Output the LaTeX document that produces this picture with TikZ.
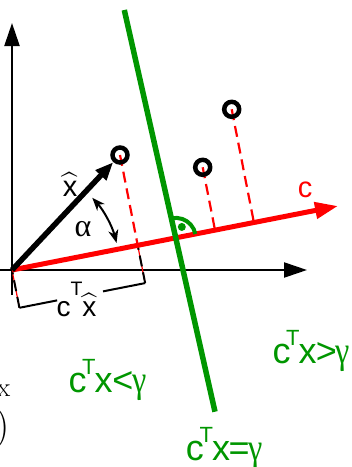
\documentclass[tikz,border=0pt]{standalone}
\usepackage{fontspec}
\newfontfamily\lsans{Liberation Sans}
\newfontfamily\lserif{Liberation Serif}
\usetikzlibrary{arrows.meta,calc}
\definecolor{fgreen}{RGB}{0,150,0}
\definecolor{fred}{RGB}{255,0,0}
% c^T x <rel> gamma, with kerns before and after the relation
\newcommand{\greenlab}[3]{c\kern-4.4pt\raisebox{18pt}{\fontsize{22}{22}\selectfont T}\kern-0.9pt x\kern#2pt#1\kern#3pt\scalebox{0.85}[1]{\lserif\fontsize{38}{38}\selectfont γ}}
% x with a wide hat (scaled from the 10pt math accent)
\newcommand{\xhat}[1]{\rlap{\scalebox{#1}{\fontsize{10}{10}\selectfont$\widehat{\hbox{\phantom{x}}}$}}x}
\begin{document}
\begin{tikzpicture}[x=1pt,y=-1pt,
  axis/.style={line width=2.2pt,-{Triangle[length=23pt,width=15pt]}},
  proj/.style={fred,line width=2.2pt,dash pattern=on 11pt off 6pt},
  pt/.style={circle,draw=black,line width=4.5pt,minimum size=15pt,inner sep=0pt},
  lab/.style={inner sep=0pt,outer sep=0pt,anchor=base west},
  blackfont/.style={font=\lsans\fontsize{28}{28}\selectfont},
  greenfont/.style={text=fgreen,font=\lsans\fontsize{36}{36}\selectfont},
  leg/.style={line width=2pt,dash pattern=on 11pt off 6pt},
  alphaarrows/.style={{Stealth[length=13pt,width=10pt,inset=4pt]}-{Stealth[length=13pt,width=10pt,inset=4pt]}}]
\useasboundingbox (0,0) rectangle (352,467);
\clip (0,0) rectangle (352,467);
% key points
\coordinate (O) at (12,270);
\coordinate (Ybot) at (12,295);
\coordinate (Ytop) at (12,23);
\coordinate (Xl) at (0,270);
\coordinate (Xr) at (307,270);
\coordinate (Ctip) at (338,206);
\coordinate (P1) at (120,155);
\coordinate (P2) at (202.7,167.3);
\coordinate (P3) at (231.7,109.3);
\coordinate (Gt) at (124.3,10);
\coordinate (Gb) at (215,411.7);
\coordinate (F1) at ($(O)!(P1)!(Ctip)$);
\coordinate (F2) at ($(O)!(P2)!(Ctip)$);
\coordinate (F3) at ($(O)!(P3)!(Ctip)$);
\coordinate (L) at ($(O)!38.5pt!-90:(Ctip)$);
\coordinate (R) at ($(F1)!38.5pt!90:(O)$);
\coordinate (X) at (intersection of O--Ctip and Gt--Gb);
% axes
\draw[axis] (Ybot) -- (Ytop);
\draw[axis] (Xl) -- (Xr);
% projections
\draw[proj] (P1) -- (F1);
\draw[proj] (P2) -- (F2);
\draw[proj] (P3) -- (F3);
% bracket
\draw[fred,line width=1.2pt] (O) -- (L) (F1) -- (R);
\draw[leg] (L) -- (O);
\draw[leg] (R) -- (F1);
\draw[line width=2pt] (L) -- ($(L)!0.30!(R)$) ($(L)!0.665!(R)$) -- (R);
% c vector
\draw[fred,line width=5pt,-{Triangle[length=23pt,width=16pt]}] (O) -- (Ctip);
% hyperplane
\draw[fgreen,line width=5.5pt] (Gt) -- (Gb);
% x hat vector
\draw[line width=5.5pt,shorten >=10pt,-{Triangle[length=18pt,width=14pt]}] (O) -- (P1);
% points
\node[pt] (c1) at (P1) {};
\node[pt] (c2) at (P2) {};
\node[pt] (c3) at (P3) {};
% right angle mark
\draw[fgreen,line width=4pt] ($(X)+(-11.1:20)$) arc[start angle=-11.1,end angle=-102.7,radius=20];
\fill[fgreen] ($(X)+(-61:12.5)$) circle[radius=4];
% angle alpha
\draw[line width=2pt,alphaarrows] ($(O)+(-42:108)$) arc[start angle=-42,end angle=-14.5,radius=108];
% labels
\node[lab,text=fred,font=\lsans\fontsize{29}{29}\selectfont] (clab) at (297.9,197.3) {c};
\node[lab,font=\lsans\fontsize{29}{29}\selectfont] (xlab) at (62.8,196) {\xhat{2.9}};
\node[lab,font=\lserif\fontsize{32}{32}\selectfont] (alab) at (74.7,236) {α};
\node[lab,blackfont] (blab) at (56.5,316.7) {c\kern0pt\raisebox{21.7pt}{\fontsize{19.5}{19.5}\selectfont T}\kern0pt\xhat{2.8}};
\node[lab,greenfont] (lt) at (68.6,392) {\greenlab{<}{-0.4}{-0.5}};
\node[lab,greenfont] (gt) at (272.6,363) {\greenlab{>}{-0.8}{-1.8}};
\node[lab,greenfont] (eq) at (185.9,460) {\greenlab{=}{-1.5}{-0.8}};
% clipped fragments at the left edge
\node[inner sep=0pt,anchor=base east,font=\fontsize{27}{27}\selectfont] (fragx) at (10.3,396.7) {x};
\node[inner sep=0pt,anchor=base east,font=\fontsize{40}{40}\selectfont] (fragp) at (9.7,438.3) {)};
\end{tikzpicture}
\end{document}
